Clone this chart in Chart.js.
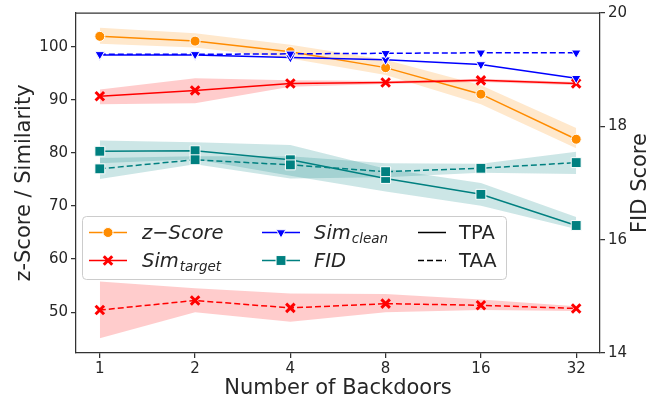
<!DOCTYPE html>
<html>
<head>
<meta charset="utf-8">
<script src="https://cdn.jsdelivr.net/npm/chart.js@4.4.1/dist/chart.umd.min.js"></script>
<style>
html, body { margin: 0; padding: 0; background: #fff; }
</style>
</head>
<body>
<canvas id="backdoorChart" width="658" height="403"></canvas>
<script>
// x categories and axis ticks
const categories = ['1', '2', '4', '8', '16', '32'];
const leftTicks = [50, 60, 70, 80, 90, 100];
const rightTicks = [14, 16, 18, 20];

// z-Score (TPA only)
const zScoreTPA = [102.0, 101.1, 99.1, 96.1, 91.1, 82.6];
const zScoreTPALo = [100.6, 99.9, 97.8, 94.7, 89.2, 80.9];
const zScoreTPAHi = [103.6, 102.6, 100.4, 97.6, 92.8, 84.7];

// Sim target
const simTargetTPA = [90.7, 91.8, 93.1, 93.3, 93.7, 93.1];
const simTargetTPALo = [89.2, 89.4, 92.5, 93.0, 93.4, 92.8];
const simTargetTPAHi = [92.0, 94.1, 93.7, 93.6, 94.0, 93.4];
const simTargetTAA = [50.4, 52.2, 50.8, 51.6, 51.3, 50.7];
const simTargetTAALo = [45.1, 50.0, 48.2, 50.0, 50.4, 50.2];
const simTargetTAAHi = [55.8, 54.5, 53.5, 53.4, 52.4, 51.1];

// Sim clean
const simCleanTPA = [98.5, 98.5, 98.0, 97.6, 96.7, 94.1];
const simCleanTAA = [98.6, 98.6, 98.7, 98.8, 98.9, 98.9];

// FID (right axis)
const fidTPA = [17.56, 17.57, 17.41, 17.08, 16.80, 16.25];
const fidTPALo = [17.35, 17.42, 17.13, 16.85, 16.60, 16.19];
const fidTPAHi = [17.75, 17.72, 17.67, 17.25, 17.00, 16.40];
const fidTAA = [17.25, 17.41, 17.32, 17.20, 17.26, 17.36];
const fidTAALo = [17.07, 17.33, 17.08, 17.10, 17.18, 17.16];
const fidTAAHi = [17.44, 17.47, 17.47, 17.35, 17.34, 17.55];

const ORANGE = '#ff8c00';
const RED = '#ff0000';
const BLUE = '#0000ff';
const TEAL = '#008080';
const TEXT = '#262626';
const SPINE = '#333333';
const FONT = "'DejaVu Sans', sans-serif";

Chart.defaults.font.family = FONT;
Chart.defaults.color = TEXT;

const markers = {
    orange: { pointStyle: 'circle', pointRadius: 5, pointBorderColor: '#fff', pointBorderWidth: 1 },
    red: { pointStyle: 'crossRot', pointRadius: 6, pointBorderWidth: 3 },
    blue: { pointStyle: 'triangle', pointRadius: 5.5, pointRotation: 180, pointBorderColor: '#fff', pointBorderWidth: 1 },
    teal: { pointStyle: 'rect', pointRadius: 7, pointBorderColor: '#fff', pointBorderWidth: 1 }
};

const toPoints = arr => arr.map((v, i) => ({ x: i, y: v }));

const datasets = [];

function addLine(values, axis, color, dashed, marker, order) {
    datasets.push(Object.assign({
        data: toPoints(values),
        yAxisID: axis,
        borderColor: color,
        backgroundColor: color,
        pointBackgroundColor: color,
        pointBorderColor: color,
        borderWidth: 1.5,
        borderDash: dashed ? [6, 3] : [],
        fill: false,
        tension: 0,
        order: order
    }, marker));
}

function addBand(lo, hi, axis, color, order) {
    const loIndex = datasets.length;
    datasets.push({
        data: toPoints(lo), yAxisID: axis,
        borderColor: 'rgba(0,0,0,0)', pointRadius: 0, fill: false, order: order
    });
    datasets.push({
        data: toPoints(hi), yAxisID: axis,
        borderColor: 'rgba(0,0,0,0)', backgroundColor: color,
        pointRadius: 0, fill: loIndex, order: order
    });
}

addBand(zScoreTPALo, zScoreTPAHi, 'y', 'rgba(255,140,0,0.2)', 20);
addLine(zScoreTPA, 'y', ORANGE, false, markers.orange, 19);
addBand(simTargetTPALo, simTargetTPAHi, 'y', 'rgba(255,0,0,0.2)', 18);
addLine(simTargetTPA, 'y', RED, false, markers.red, 17);
addBand(simTargetTAALo, simTargetTAAHi, 'y', 'rgba(255,0,0,0.2)', 16);
addLine(simTargetTAA, 'y', RED, true, markers.red, 15);
addLine(simCleanTPA, 'y', BLUE, false, markers.blue, 14);
addLine(simCleanTAA, 'y', BLUE, true, markers.blue, 13);
addBand(fidTPALo, fidTPAHi, 'yFid', 'rgba(0,128,128,0.2)', 12);
addLine(fidTPA, 'yFid', TEAL, false, markers.teal, 11);
addBand(fidTAALo, fidTAAHi, 'yFid', 'rgba(0,128,128,0.2)', 10);
addLine(fidTAA, 'yFid', TEAL, true, markers.teal, 9);

// legend, top spine and right axis title
const decorPlugin = {
    id: 'decor',
    afterDraw(chart) {
        const ctx = chart.ctx;
        const a = chart.chartArea;
        ctx.save();

        ctx.strokeStyle = SPINE;
        ctx.lineWidth = 1.25;
        ctx.beginPath();
        ctx.moveTo(a.left, a.top);
        ctx.lineTo(a.right, a.top);
        ctx.stroke();

        ctx.fillStyle = TEXT;
        ctx.font = '21px ' + FONT;
        ctx.textAlign = 'center';
        ctx.textBaseline = 'middle';
        ctx.translate(641, (a.top + a.bottom) / 2);
        ctx.rotate(-Math.PI / 2);
        ctx.fillText('FID Score', 0, 0);
        ctx.restore();

        // legend box
        ctx.save();
        ctx.beginPath();
        ctx.roundRect(82.5, 216.5, 424, 63, 4);
        ctx.fillStyle = 'rgba(255,255,255,0.8)';
        ctx.fill();
        ctx.strokeStyle = '#cccccc';
        ctx.lineWidth = 1;
        ctx.stroke();

        const handle = (x, y, color, marker, dashed) => {
            ctx.save();
            ctx.strokeStyle = color;
            ctx.lineWidth = 1.5;
            ctx.setLineDash(dashed ? [6, 3] : []);
            ctx.beginPath();
            ctx.moveTo(x, y);
            ctx.lineTo(x + 38, y);
            ctx.stroke();
            ctx.setLineDash([]);
            if (marker) {
                ctx.fillStyle = color;
                ctx.strokeStyle = marker.pointBorderColor || color;
                ctx.lineWidth = marker.pointBorderWidth;
                Chart.helpers.drawPoint(ctx, {
                    pointStyle: marker.pointStyle,
                    radius: marker.pointRadius,
                    rotation: marker.pointRotation || 0,
                    borderWidth: marker.pointBorderWidth
                }, x + 19, y);
            }
            ctx.restore();
        };

        const label = (x, y, main, sub, italic) => {
            ctx.fillStyle = TEXT;
            ctx.textAlign = 'left';
            ctx.textBaseline = 'alphabetic';
            ctx.font = (italic ? 'italic ' : '') + '19.5px ' + FONT;
            ctx.fillText(main, x, y);
            if (sub) {
                const w = ctx.measureText(main).width;
                ctx.font = 'italic 13.5px ' + FONT;
                ctx.fillText(sub, x + w + 1, y + 4);
            }
        };

        const row1 = 232.5, row2 = 260.5;
        handle(89, row1, ORANGE, markers.orange, false);
        label(142, row1 + 6, 'z\u2212Score', null, true);
        handle(89, row2, RED, markers.red, false);
        label(142, row2 + 6, 'Sim', 'target', true);

        handle(262, row1, BLUE, markers.blue, false);
        label(314, row1 + 6, 'Sim', 'clean', true);
        handle(262, row2, TEAL, markers.teal, false);
        label(314, row2 + 6, 'FID', null, true);

        ctx.save();
        ctx.strokeStyle = '#000';
        ctx.lineWidth = 1.5;
        ctx.beginPath();
        ctx.moveTo(418, row1);
        ctx.lineTo(446, row1);
        ctx.stroke();
        ctx.setLineDash([6, 3]);
        ctx.beginPath();
        ctx.moveTo(418, row2);
        ctx.lineTo(446, row2);
        ctx.stroke();
        ctx.restore();
        label(459, row1 + 6, 'TPA', null, false);
        label(459, row2 + 6, 'TAA', null, false);

        ctx.restore();
    }
};

const axisGrid = { drawOnChartArea: false, drawTicks: true, tickLength: 5, color: SPINE, lineWidth: 1.25 };
const axisBorder = { display: true, color: SPINE, width: 1.25 };
const tickFont = { size: 15, family: FONT };

const ctx = document.getElementById('backdoorChart').getContext('2d');
const backdoorChart = new Chart(ctx, {
    type: 'line',
    data: { datasets: datasets },
    options: {
        responsive: false,
        animation: false,
        layout: { padding: { top: 13, left: 0, right: 0, bottom: 0 } },
        scales: {
            x: {
                type: 'linear',
                min: -0.25,
                max: 5.25,
                afterBuildTicks: s => { s.ticks = categories.map((c, i) => ({ value: i })); },
                afterFit: s => { s.height = 50; },
                ticks: {
                    callback: v => categories[v],
                    autoSkip: false,
                    maxRotation: 0,
                    padding: 2,
                    font: tickFont,
                    color: TEXT
                },
                grid: axisGrid,
                border: axisBorder,
                title: {
                    display: true,
                    text: 'Number of Backdoors',
                    font: { size: 21, family: FONT },
                    color: TEXT,
                    padding: { top: 0, bottom: 1.5 }
                }
            },
            y: {
                position: 'left',
                min: 42.3,
                max: 106.4,
                afterBuildTicks: s => { s.ticks = leftTicks.map(v => ({ value: v })); },
                afterFit: s => { s.width = 76; },
                ticks: { padding: 3, font: tickFont, color: TEXT },
                grid: axisGrid,
                border: axisBorder,
                title: {
                    display: true,
                    text: 'z-Score / Similarity',
                    font: { size: 21, family: FONT },
                    color: TEXT,
                    padding: { top: 12, bottom: 0 }
                }
            },
            yFid: {
                position: 'right',
                min: 14,
                max: 20,
                afterBuildTicks: s => { s.ticks = rightTicks.map(v => ({ value: v })); },
                afterFit: s => { s.width = 58; },
                ticks: { padding: 3, font: tickFont, color: TEXT },
                grid: axisGrid,
                border: axisBorder
            }
        },
        plugins: {
            legend: { display: false },
            tooltip: { enabled: false }
        }
    },
    plugins: [decorPlugin]
});
</script>
</body>
</html>
